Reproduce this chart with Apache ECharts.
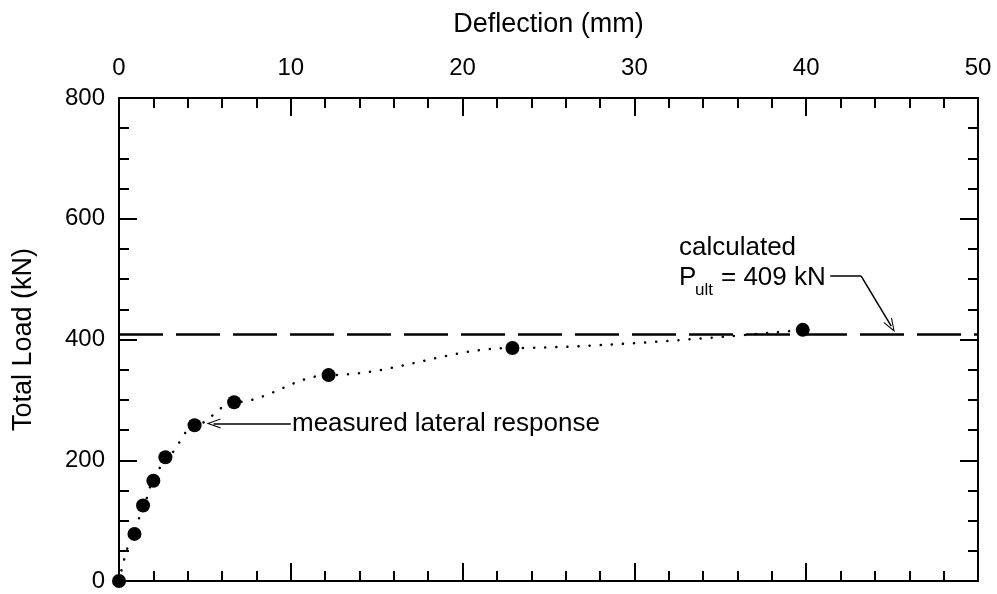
<!DOCTYPE html>
<html><head><meta charset="utf-8">
<script src="https://cdn.jsdelivr.net/npm/echarts@6/dist/echarts.min.js"></script>
<style>html,body{margin:0;padding:0;background:#fff}#c{width:997px;height:594px}</style>
</head><body><div id="c"></div>
<script>
var deflection = [0, 0.9, 1.4, 2.0, 2.7, 4.4, 6.7, 12.2, 22.9, 39.8];
var totalLoad  = [0, 78, 125, 166, 205, 258, 296, 341, 386, 416];
var pultValue = 409;
var xTicks = [0, 10, 20, 30, 40, 50];
var yTicks = [0, 200, 400, 600, 800];

var pts = deflection.map(function(x, i){ return [x, totalLoad[i]]; });
var FONT = 'Liberation Sans, Arial, sans-serif';
var openArrow = 'path://M0,12 L6,0 L12,12 L10.6,12 L6,2.6 L1.4,12 Z';

var chart = echarts.init(document.getElementById('c'), null, {renderer:'canvas'});
function mk(extra){
  var base = {
    type:'value',
    axisLine:{show:true, onZero:false, lineStyle:{color:'#000', width:2}},
    axisTick:{show:true, inside:true, length:18, lineStyle:{color:'#000', width:2}},
    splitLine:{show:false},
    minorSplitLine:{show:false}
  };
  return Object.assign(base, extra);
}
chart.setOption({
  animation:false,
  backgroundColor:'#fff',
  grid:{left:119, right:19, top:98, bottom:13, containLabel:false, outerBoundsMode:'none'},
  xAxis:[
    mk({position:'top', min:xTicks[0], max:xTicks[xTicks.length-1], interval:10,
      minorTick:{show:true, splitNumber:5, length:10, lineStyle:{color:'#000', width:2}},
      axisLabel:{show:true, margin:18, fontSize:24, color:'#000', fontFamily:FONT},
      name:'Deflection (mm)', nameLocation:'middle', nameGap:60,
      nameTextStyle:{fontSize:27, color:'#000', fontFamily:FONT}}),
    mk({position:'bottom', min:0, max:50, interval:10,
      minorTick:{show:true, splitNumber:5, length:10, lineStyle:{color:'#000', width:2}},
      axisLabel:{show:false}})
  ],
  yAxis:[
    mk({position:'left', min:yTicks[0], max:yTicks[yTicks.length-1], interval:200,
      minorTick:{show:true, splitNumber:4, length:10, lineStyle:{color:'#000', width:2}},
      axisLabel:{show:true, margin:14, fontSize:24, color:'#000', fontFamily:FONT},
      name:'Total Load (kN)', nameLocation:'middle', nameGap:82, nameRotate:90,
      nameTextStyle:{fontSize:27, color:'#000', fontFamily:FONT}}),
    mk({position:'right', min:0, max:800, interval:200,
      minorTick:{show:true, splitNumber:4, length:10, lineStyle:{color:'#000', width:2}},
      axisLabel:{show:false}})
  ],
  series:[
    {
      type:'line', xAxisIndex:0, yAxisIndex:0,
      data:pts, smooth:0.35, smoothMonotone:'x',
      symbol:'circle', symbolSize:14, showSymbol:true,
      itemStyle:{color:'#000'},
      lineStyle:{color:'#000', width:2.5, type:[0.1, 11], cap:'round'},
      z:3,
      markLine:{
        silent:true, symbol:['none','none'], label:{show:false},
        lineStyle:{color:'#000', width:2.5, type:[44, 13]},
        data:[{yAxis:pultValue}]
      }
    },
    {
      type:'line', xAxisIndex:0, yAxisIndex:0, data:[], silent:true,
      markLine:{
        silent:true, label:{show:false}, symbolSize:[10,14],
        lineStyle:{color:'#000', width:1.5, type:'solid'},
        data:[
          [{coord:[10.0, 261], symbol:'none'}, {coord:[5.5, 261], symbol:openArrow}],
          [{coord:[41.4, 505], symbol:'none'}, {coord:[43.2, 505], symbol:'none'}],
          [{coord:[43.2, 505], symbol:'none'}, {coord:[44.95, 422], symbol:openArrow}]
        ]
      }
    }
  ],
  graphic:[
    {type:'text', left:292, top:411, style:{text:'measured lateral response', font:'26px '+FONT, fill:'#000'}},
    {type:'text', left:679, top:235, style:{text:'calculated', font:'26px '+FONT, fill:'#000'}},
    {type:'text', left:679, top:265, style:{text:'P', font:'26px '+FONT, fill:'#000'}},
    {type:'text', left:695, top:282, style:{text:'ult', font:'17px '+FONT, fill:'#000'}},
    {type:'text', left:721, top:265, style:{text:'= 409 kN', font:'26px '+FONT, fill:'#000'}}
  ]
});
</script></body></html>
